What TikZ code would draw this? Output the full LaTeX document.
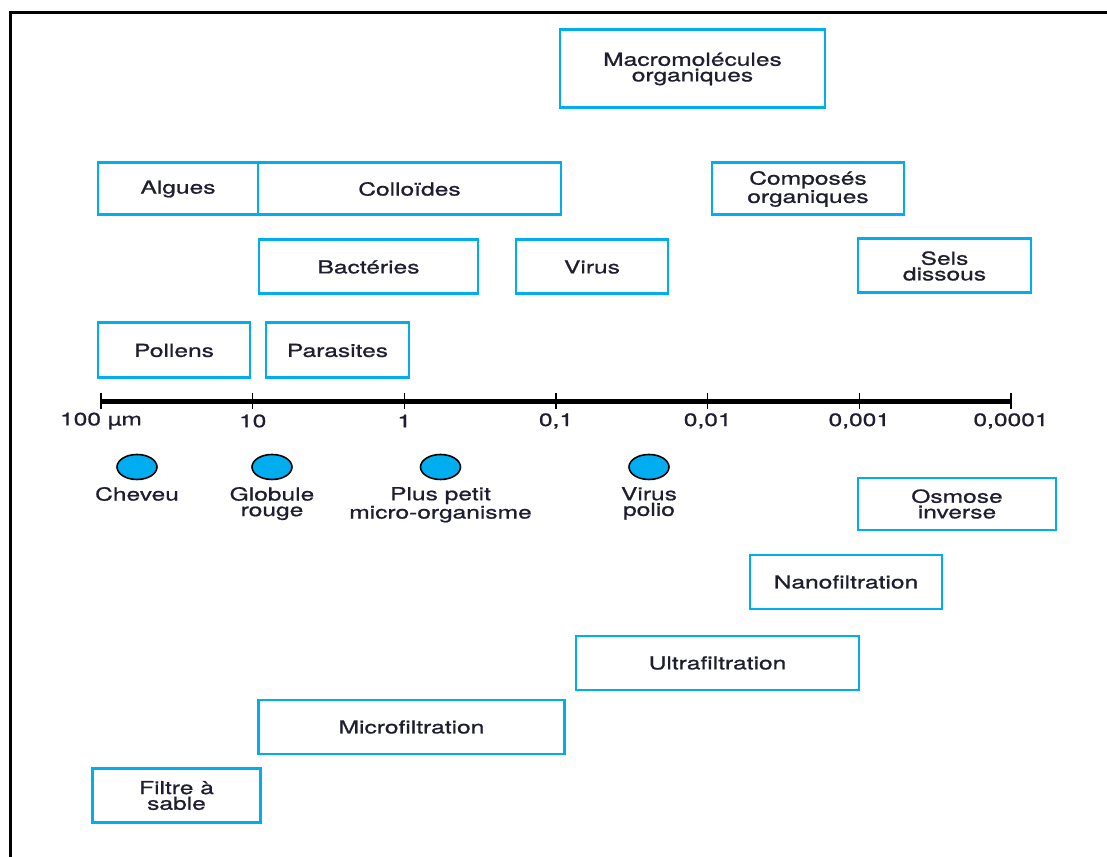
\documentclass[tikz,border=0pt]{standalone}
\usepackage{fontspec}
\usepackage{tikz}
\usetikzlibrary{positioning}
\usetikzlibrary{shapes.geometric}
\newfontfamily\herosfont[FakeStretch=1.37,FakeBold=0.9]{TeX Gyre Heros}
\definecolor{boxcyan}{RGB}{0,174,239}
\definecolor{textnavy}{RGB}{30,30,48}

\begin{document}
\begin{tikzpicture}[x=0.02cm, y=-0.02cm]
		\tikzset{
			boxnode/.style 2 args={draw=boxcyan, line width=1.7pt, inner sep=0pt,
				minimum width=#1*0.02cm, minimum height=#2*0.02cm,
				text=textnavy, align=center, font=\herosfont\fontsize{10.2}{8.9}\selectfont},
		}
		\tikzset{
			textnode/.style={text=textnavy, inner sep=0pt, align=center,
				font=\herosfont\fontsize{10.2}{8.9}\selectfont},
		}
		\tikzset{
			dotnode/.style={ellipse, draw=black, line width=0.9pt, fill=boxcyan,
				minimum width=40*0.02cm, minimum height=25*0.02cm, inner sep=0pt},
		}
		\tikzset{
			axis/.style={color=black, line width=2.8pt},
			tick/.style={color=black, line width=0.9pt},
			frame/.style={color=black, line width=1.4pt},
		}
		\useasboundingbox (0,0) rectangle (1107,857);
		
		% frame
		\draw[frame] (1107,12.5) -- (10.5,12.5) -- (10.5,857);
		
		% particles above the scale
		\node[boxnode={265}{78}] (macro) at (692.5,69) {Macromolécules\\organiques};
		\node[boxnode={160}{52}] (algues) at (178,189) {Algues};
		\node[boxnode={303}{52}] (colloides) at (409.5,189) {Colloïdes};
		\node[boxnode={192}{52}] (composes) at (808,189) {Composés\\organiques};
		\node[boxnode={219}{54}] (bacteries) at (368.5,267) {Bactéries};
		\node[boxnode={152}{54}] (virus) at (592,267) {Virus};
		\node[boxnode={173}{54}] (sels) at (944.5,266) {Sels\\dissous};
		\node[boxnode={152}{55}] (pollens) at (174,350.5) {Pollens};
		\node[boxnode={143}{55}] (parasites) at (337.5,350.5) {Parasites};
		
		% scale
		\coordinate (a0) at (101,401.5);
		\coordinate (a6) at (1011,401.5);
		\draw[axis] (a0) to (a6);
		\draw[tick] (101,393) -- (101,409);
		\draw[tick] (252.7,393) -- (252.7,409);
		\draw[tick] (404.3,393) -- (404.3,409);
		\draw[tick] (556,393) -- (556,409);
		\draw[tick] (707.7,393) -- (707.7,409);
		\draw[tick] (859.3,393) -- (859.3,409);
		\draw[tick] (1011,393) -- (1011,409);
		\node[textnode] (l100) at (101,421) {100 µm};
		\node[textnode] (l10) at (252.7,421) {10};
		\node[textnode] (l1) at (404.3,421) {1};
		\node[textnode] (l01) at (556,421) {0,1};
		\node[textnode] (l001) at (707.7,421) {0,01};
		\node[textnode] (l0001) at (859.3,421) {0,001};
		\node[textnode] (l00001) at (1011,421) {0,0001};
		
		% reference sizes
		\node[dotnode] (cheveu) at (137,467) {};
		\node[dotnode] (globule) at (272,467) {};
		\node[dotnode] (micro) at (440.5,467) {};
		\node[dotnode] (polio) at (649,467) {};
		\node[textnode, below=0.13cm of cheveu] (cheveuT) {Cheveu};
		\node[textnode, below=0.13cm of globule] (globuleT) {Globule\\rouge};
		\node[textnode, below=0.13cm of micro] (microT) {Plus petit\\micro-organisme};
		\node[textnode, below=0.13cm of polio] (polioT) {Virus\\polio};
		
		% processes
		\node[boxnode={198}{52}] (osmose) at (957,504) {Osmose\\inverse};
		\node[boxnode={192}{54}] (nano) at (846,582) {Nanofiltration};
		\node[boxnode={283}{54}] (ultra) at (717.5,663) {Ultrafiltration};
		\node[boxnode={306}{54}] (microf) at (411.5,727) {Microfiltration};
		\node[boxnode={168}{54}] (sable) at (176.5,795.5) {Filtre à\\sable};
	\end{tikzpicture}
\end{document}
